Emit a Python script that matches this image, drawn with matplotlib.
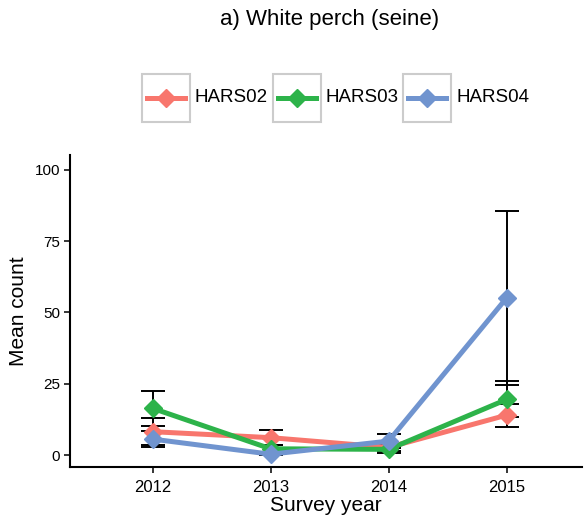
import matplotlib
matplotlib.use("Agg")
import matplotlib.pyplot as plt
from matplotlib.patches import Rectangle
from matplotlib.lines import Line2D

plt.rcParams["font.family"] = ["Liberation Sans", "DejaVu Sans"]

years = [2012, 2013, 2014, 2015]
sites = ["HARS02", "HARS03", "HARS04"]
colors = ["#F8766D", "#2DB34A", "#7094CF"]
means = {
    "HARS02": [8.2, 6.1, 2.7, 14.0],
    "HARS03": [16.4, 2.2, 2.0, 19.5],
    "HARS04": [5.6, 0.3, 4.9, 55.1],
}
errs = {
    "HARS02": [4.7, 2.7, 1.2, 4.0],
    "HARS03": [6.2, 1.4, 1.2, 6.3],
    "HARS04": [2.7, 0.3, 2.4, 30.6],
}

fig = plt.figure(figsize=(5.88, 5.23), dpi=100)
ax = fig.add_axes([0.119, 0.107, 0.871, 0.597])

for s in sites:
    ax.errorbar(years, means[s], yerr=errs[s], fmt="none", ecolor="black",
                elinewidth=1.4, capsize=8.5, capthick=1.4, zorder=2)
for s, c in zip(sites, colors):
    ax.plot(years, means[s], color=c, lw=3.6, marker="D", ms=9,
            solid_capstyle="butt", zorder=3)

ax.set_xlim(2011.3, 2015.64)
ax.set_ylim(-4.2, 105.3)
ax.set_xticks(years)
ax.set_yticks([0, 25, 50, 75, 100])
ax.tick_params(length=4, width=1.1, color="black")
ax.tick_params(axis="x", labelsize=12, pad=5)
ax.tick_params(axis="y", labelsize=11, pad=3)
for sp in ["top", "right"]:
    ax.spines[sp].set_visible(False)
for sp in ["left", "bottom"]:
    ax.spines[sp].set_linewidth(1.5)
ax.set_xlabel("Survey year", fontsize=15, labelpad=1)
ax.set_ylabel("Mean count", fontsize=15, labelpad=5)

fig.text(0.560, 0.962, "a) White perch (seine)", ha="center", va="center", fontsize=16)

# legend with a box around each key
W, H = 588.0, 523.0
box_x = [142, 273, 403]
for s, c, bx in zip(sites, colors, box_x):
    fig.add_artist(Rectangle((bx / W, 1 - 122 / H), 48 / W, 48 / H,
                             transform=fig.transFigure, fill=False,
                             edgecolor="#cccccc", lw=1.5))
    fig.add_artist(Line2D([(bx + 5) / W, (bx + 43) / W], [1 - 98 / H] * 2,
                          transform=fig.transFigure, color=c, lw=3.6))
    fig.add_artist(Line2D([(bx + 24) / W], [1 - 98 / H], transform=fig.transFigure,
                          color=c, marker="D", ms=9, lw=0))
    fig.text((bx + 53) / W, 1 - 98 / H, s, ha="left", va="center", fontsize=13.5)

fig.savefig("out.png", dpi=100)
